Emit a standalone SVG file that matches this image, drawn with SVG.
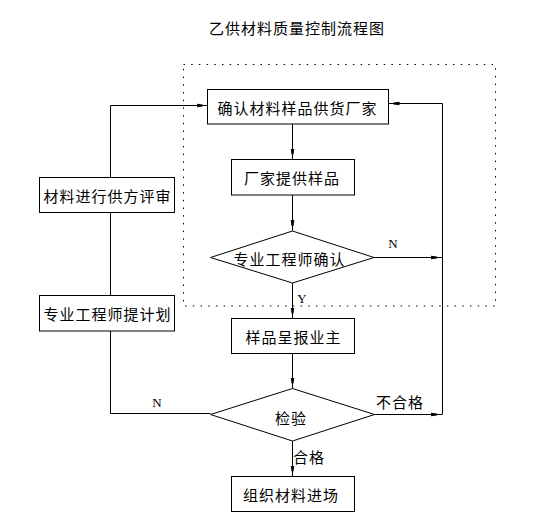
<svg xmlns="http://www.w3.org/2000/svg" width="533" height="522" viewBox="0 0 533 522">
<style>
.bg{fill:#fff}
.box{fill:#fff;stroke:#000;stroke-width:1}
.ln{fill:none;stroke:#000;stroke-width:1}
.dot{fill:none;stroke:#000;stroke-width:1;stroke-dasharray:1.5 6.2}
.t{font-family:"Noto Sans CJK SC","Noto Sans",sans-serif;font-size:15px;letter-spacing:1px;text-anchor:middle;dominant-baseline:central;fill:#000}
.s{font-family:"Liberation Serif","DejaVu Serif",serif;font-size:13px;text-anchor:middle;dominant-baseline:central;fill:#000}
</style>
<defs>
<marker id="ah" markerUnits="userSpaceOnUse" markerWidth="14" markerHeight="6" viewBox="0 -3 14 6" refX="11" refY="0" orient="auto">
<path d="M0,-1.8 L6,-1 L6,1 L0,1.8 z" fill="#000"/>
</marker>
</defs>
<rect class="bg" x="0" y="0" width="533" height="522"/>
<text class="t" x="297" y="27">乙供材料质量控制流程图</text>
<rect id="scope" class="dot" x="183.5" y="64.5" width="312" height="241.5"/>
<g id="connectors">
<path class="ln" d="M210.5,413.5 H110.5 V105.5 H207.5" marker-end="url(#ah)"/>
<path class="ln" d="M292.5,124 V159.5" marker-end="url(#ah)"/>
<path class="ln" d="M292.5,195 V231" marker-end="url(#ah)"/>
<path class="ln" d="M374,257.5 H442" marker-end="url(#ah)"/>
<path class="ln" d="M442.5,414.5 V103.5 H388.5" marker-end="url(#ah)"/>
<path class="ln" d="M292.5,283 V318.5" marker-end="url(#ah)"/>
<path class="ln" d="M292.5,353.5 V388.5" marker-end="url(#ah)"/>
<path class="ln" d="M374.5,414.5 H442" marker-end="url(#ah)"/>
<path class="ln" d="M292.5,441 V476.5" marker-end="url(#ah)"/>
<text class="s" x="393" y="243">N</text>
<text class="s" x="302" y="298">Y</text>
<text class="s" x="157" y="402">N</text>
<text class="t" x="400" y="401">不合格</text>
<text class="t" x="309" y="456.5">合格</text>
</g>
<g id="n1"><rect class="box" x="207.5" y="89.5" width="181" height="34.5"/><text class="t" x="297.5" y="107">确认材料样品供货厂家</text></g>
<g id="n2"><rect class="box" x="231.5" y="159.5" width="123" height="35.5"/><text class="t" x="292" y="177.5">厂家提供样品</text></g>
<g id="n3"><polygon class="box" points="292.5,231 374,257.5 292.5,283 210.5,257.5"/><text class="t" x="289.5" y="258.5">专业工程师确认</text></g>
<g id="n4"><rect class="box" x="231.5" y="318.5" width="123" height="35"/><text class="t" x="293.5" y="336">样品呈报业主</text></g>
<g id="n5"><polygon class="box" points="292.5,388.5 374.5,414.5 292.5,441 210.5,414.5"/><text class="t" x="291" y="417">检验</text></g>
<g id="n6"><rect class="box" x="231.5" y="476.5" width="123" height="35"/><text class="t" x="291" y="494">组织材料进场</text></g>
<g id="n7"><rect class="box" x="39.5" y="177.5" width="135" height="35"/><text class="t" x="107.5" y="195.5">材料进行供方评审</text></g>
<g id="n8"><rect class="box" x="39.5" y="295.5" width="135" height="35.5"/><text class="t" x="107.5" y="313.5">专业工程师提计划</text></g>
</svg>
